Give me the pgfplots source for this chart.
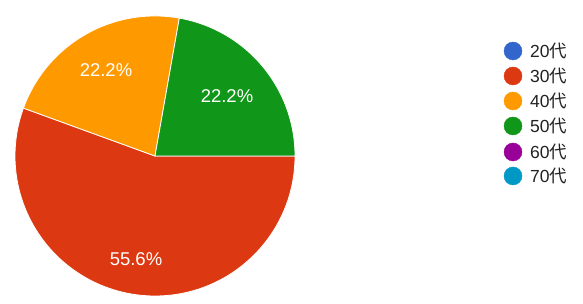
\documentclass[border=0pt]{standalone}
\usepackage{pgfplots}
\pgfplotsset{compat=1.18}
\usepackage{fontspec}
\setmainfont{Liberation Sans}
\newfontfamily\cjk{Noto Sans CJK JP}
\definecolor{c20}{HTML}{3366CC}
\definecolor{c30}{HTML}{DC3912}
\definecolor{c40}{HTML}{FF9900}
\definecolor{c50}{HTML}{109618}
\definecolor{c60}{HTML}{990099}
\definecolor{c70}{HTML}{0099C6}
\definecolor{txt}{HTML}{222222}
\tikzset{lab/.style={anchor=west, text=txt, inner sep=0pt, font=\fontsize{17.5}{20}\selectfont}}
\begin{document}
\begin{tikzpicture}
\begin{axis}[
  x=1pt, y=1pt, xmin=0, xmax=583, ymin=0, ymax=304,
  hide axis, scale only axis, clip=false,
]
\path (axis cs:0,0) rectangle (axis cs:583,304);
% pie: counts 20代 0, 30代 5, 40代 2, 50代 2, 60代 0, 70代 0 (total 9)
% start at 3 o'clock, clockwise
\fill[c30, draw=white, line width=0.8pt] (axis cs:155,148) -- ++(0:140pt) arc[start angle=0, end angle=-200, radius=140pt] -- cycle;
\fill[c40, draw=white, line width=0.8pt] (axis cs:155,148) -- ++(160:140pt) arc[start angle=160, end angle=80, radius=140pt] -- cycle;
\fill[c50, draw=white, line width=0.8pt] (axis cs:155,148) -- ++(80:140pt) arc[start angle=80, end angle=0, radius=140pt] -- cycle;
\node[text=white, font=\fontsize{18.5}{20}\selectfont] at (axis cs:106,234) {22.2\%};
\node[text=white, font=\fontsize{18.5}{20}\selectfont] at (axis cs:227,208) {22.2\%};
\node[text=white, font=\fontsize{18.5}{20}\selectfont] at (axis cs:136,45) {55.6\%};
% legend
\addplot[only marks, mark=*, mark size=9pt, c20, mark options={draw=c20}] coordinates {(513,253)};
\addplot[only marks, mark=*, mark size=9pt, c30, mark options={draw=c30}] coordinates {(513,228)};
\addplot[only marks, mark=*, mark size=9pt, c40, mark options={draw=c40}] coordinates {(513,203)};
\addplot[only marks, mark=*, mark size=9pt, c50, mark options={draw=c50}] coordinates {(513,178)};
\addplot[only marks, mark=*, mark size=9pt, c60, mark options={draw=c60}] coordinates {(513,152)};
\addplot[only marks, mark=*, mark size=9pt, c70, mark options={draw=c70}] coordinates {(513,128)};
\node[lab] at (axis cs:530,253) {20{\cjk 代}};
\node[lab] at (axis cs:530,228) {30{\cjk 代}};
\node[lab] at (axis cs:530,203) {40{\cjk 代}};
\node[lab] at (axis cs:530,178) {50{\cjk 代}};
\node[lab] at (axis cs:530,152) {60{\cjk 代}};
\node[lab] at (axis cs:530,128) {70{\cjk 代}};
\end{axis}
\end{tikzpicture}
\end{document}
